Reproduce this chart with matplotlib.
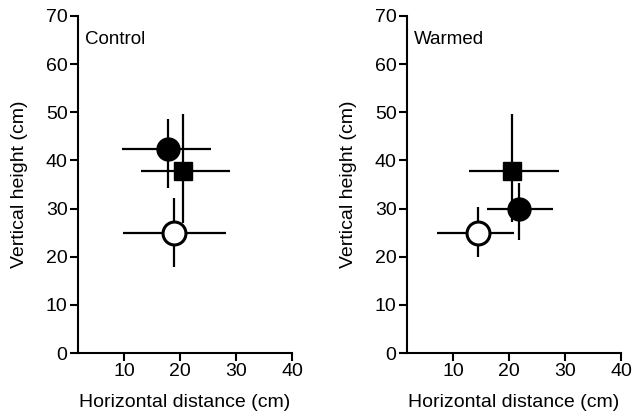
import matplotlib
matplotlib.use("Agg")
import matplotlib.pyplot as plt

plt.rcParams['font.family'] = ['Liberation Sans', 'DejaVu Sans']

panels = ["Control", "Warmed"]

# Each series: x, y, x-err (minus, plus), y-err (minus, plus)
sq_x = [20.6, 20.6]
sq_y = [37.8, 37.8]
sq_xerr_lo = [7.6, 7.7]
sq_xerr_hi = [8.3, 8.3]
sq_yerr_lo = [10.8, 10.6]
sq_yerr_hi = [11.8, 11.8]

fc_x = [17.9, 21.8]
fc_y = [42.3, 29.9]
fc_xerr_lo = [8.2, 5.8]
fc_xerr_hi = [7.7, 6.1]
fc_yerr_lo = [8.0, 6.4]
fc_yerr_hi = [6.3, 5.5]

oc_x = [19.0, 14.4]
oc_y = [24.9, 24.9]
oc_xerr_lo = [9.1, 7.2]
oc_xerr_hi = [9.2, 6.5]
oc_yerr_lo = [7.0, 5.0]
oc_yerr_hi = [7.2, 5.5]

x_ticks = [10, 20, 30, 40]
y_ticks = [0, 10, 20, 30, 40, 50, 60, 70]

fig = plt.figure(figsize=(6.33, 4.16), dpi=100)
lefts = [78 / 633, 407 / 633]
W = 214 / 633
B = 63 / 416
H = 337 / 416

for i, name in enumerate(panels):
    ax = fig.add_axes([lefts[i], B, W, H])
    ekw = dict(ecolor='black', elinewidth=1.6, capsize=0, linestyle='none')
    ax.errorbar(sq_x[i], sq_y[i],
                xerr=[[sq_xerr_lo[i]], [sq_xerr_hi[i]]],
                yerr=[[sq_yerr_lo[i]], [sq_yerr_hi[i]]],
                marker='s', ms=12.5, mfc='black', mec='black', zorder=3, **ekw)
    ax.errorbar(fc_x[i], fc_y[i],
                xerr=[[fc_xerr_lo[i]], [fc_xerr_hi[i]]],
                yerr=[[fc_yerr_lo[i]], [fc_yerr_hi[i]]],
                marker='o', ms=16.5, mfc='black', mec='black', zorder=4, **ekw)
    ax.errorbar(oc_x[i], oc_y[i],
                xerr=[[oc_xerr_lo[i]], [oc_xerr_hi[i]]],
                yerr=[[oc_yerr_lo[i]], [oc_yerr_hi[i]]],
                marker='o', ms=16.5, mfc='white', mec='black', mew=2.2, zorder=5, **ekw)
    ax.set_xlim(1.8, 40)
    ax.set_ylim(0, 70)
    ax.set_xticks(x_ticks)
    ax.set_yticks(y_ticks)
    for s in ['top', 'right']:
        ax.spines[s].set_visible(False)
    for s in ['left', 'bottom']:
        ax.spines[s].set_linewidth(1.5)
    ax.spines['bottom'].set_bounds(1.8, 40)
    ax.tick_params(direction='out', length=5.5, width=1.5, labelsize=14, pad=2)
    ax.set_xlabel("Horizontal distance (cm)", fontsize=14)
    ax.set_ylabel("Vertical height (cm)", fontsize=14)
    ax.xaxis.set_label_coords(0.5, -0.122)
    ax.yaxis.set_label_coords(-0.234, 0.5)
    ax.text(0.033, 0.929, name, transform=ax.transAxes, fontsize=13.5, va='center', ha='left')

fig.savefig("out.png", dpi=100)
